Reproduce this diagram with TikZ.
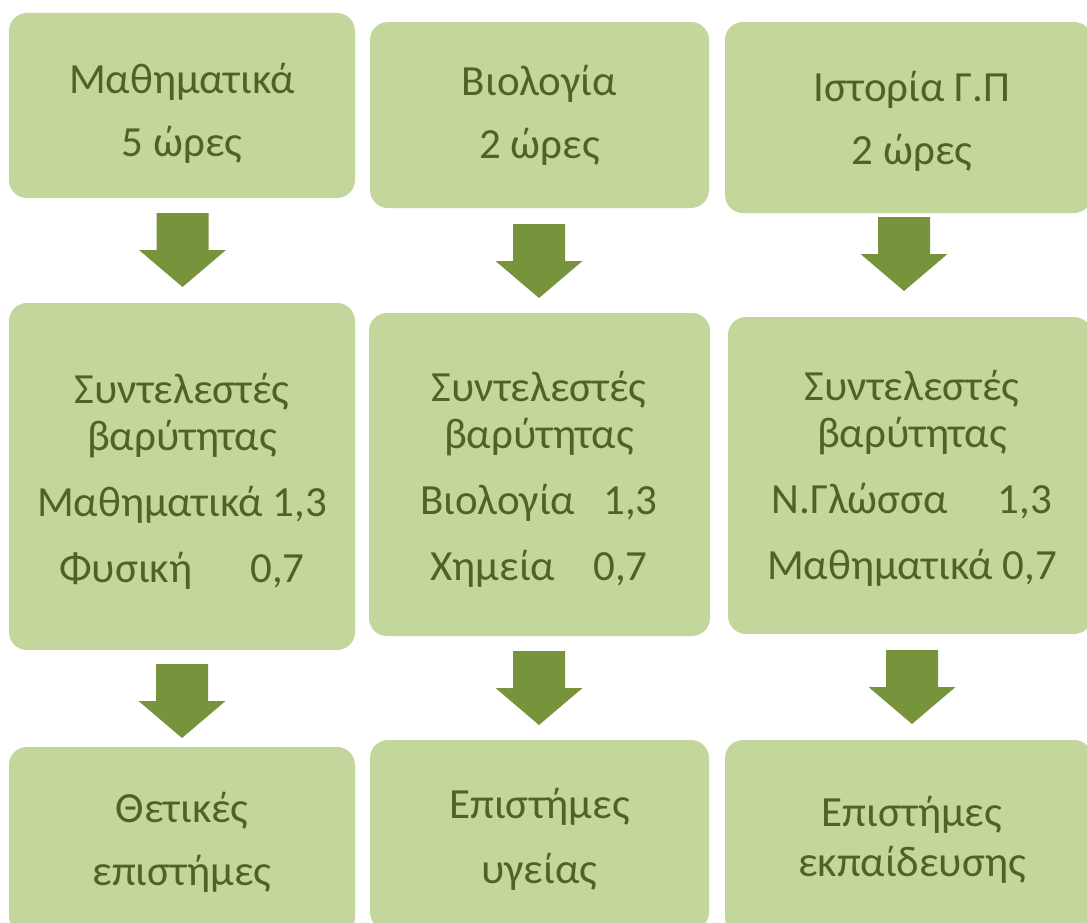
\documentclass[tikz,border=0pt]{standalone}
\usepackage{fontspec}
\setmainfont{Carlito}
\definecolor{boxgreen}{HTML}{C3D69B}
\definecolor{arrgreen}{HTML}{77933C}
\definecolor{txtgreen}{HTML}{4F6228}
\tikzset{
	pinakas/.style={fill=boxgreen, rounded corners=18pt, inner sep=0pt},
	keimeno/.style={align=center, inner sep=0pt, text=txtgreen,
		font=\fontsize{43}{47}\selectfont},
	velos/.style={fill=arrgreen}
}
% βέλος προς τα κάτω από το σημείο #1 (κέντρο πάνω πλευράς)
\newcommand{\belos}[1]{\fill[velos] (#1) ++(-26,0) -- ++(0,37) -- ++(-17.5,0)
	-- ++(43.5,37) -- ++(43.5,-37) -- ++(-17.5,0) -- ++(0,-37) -- cycle;}
\begin{document}
\begin{tikzpicture}[x=1pt,y=-1pt]
	\useasboundingbox (0,0) rectangle (1087,923);
	\clip (0,0) rectangle (1087,923);
	%	πάνω σειρά
	\node[pinakas, minimum width=346pt, minimum height=185pt] (mathA) at (182,105.5) {};
	\node[pinakas, minimum width=339pt, minimum height=186pt] (biolA) at (539.5,115) {};
	\node[pinakas, minimum width=367pt, minimum height=191pt] (istA) at (908.5,117.5) {};
	\node[keimeno] (mathAt) at (182,113) {Μαθηματικά\\[16pt]5 ώρες};
	\node[keimeno] (biolAt) at (539.5,115) {Βιολογία\\[16pt]2 ώρες};
	\node[keimeno] (istAt) at (912,121.5) {Ιστορία Γ.Π\\[16pt]2 ώρες};
	%	συντελεστές
	\node[pinakas, minimum width=346pt, minimum height=347pt] (mathB) at (182,476.5) {};
	\node[pinakas, minimum width=341pt, minimum height=323pt] (biolB) at (539.5,474.5) {};
	\node[pinakas, minimum width=364pt, minimum height=317pt] (istB) at (910,475.5) {};
	\node[keimeno] (mathBt) at (182,481)
		{Συντελεστές\\βαρύτητας\\[19pt]Μαθηματικά 1,3\\[19pt]Φυσική\hspace{58pt}0,7};
	\node[keimeno] (biolBt) at (539,479)
		{Συντελεστές\\βαρύτητας\\[19pt]Βιολογία\hspace{28pt}1,3\\[19pt]Χημεία\hspace{38pt}0,7};
	\node[keimeno] (istBt) at (912,478)
		{Συντελεστές\\βαρύτητας\\[19pt]Ν.Γλώσσα\hspace{50pt}1,3\\[19pt]Μαθηματικά 0,7};
	%	κάτω σειρά
	\node[pinakas, minimum width=346pt, minimum height=188pt] (mathC) at (182,841) {};
	\node[pinakas, minimum width=339pt, minimum height=190pt] (biolC) at (539.5,835) {};
	\node[pinakas, minimum width=367pt, minimum height=195pt] (istC) at (908.5,837.5) {};
	\node[keimeno] (mathCt) at (182,842) {Θετικές\\[16pt]επιστήμες};
	\node[keimeno] (biolCt) at (539.5,839) {Επιστήμες\\[18pt]υγείας};
	\node[keimeno] (istCt) at (912,839.5) {Επιστήμες\\[3pt]εκπαίδευσης};
	%	βέλη
	\coordinate (belA1) at (182.5,213);
	\coordinate (belB1) at (539,224);
	\coordinate (belC1) at (904,217);
	\coordinate (belA2) at (182,664);
	\coordinate (belB2) at (539,651);
	\coordinate (belC2) at (912,650);
	\belos{belA1} \belos{belB1} \belos{belC1}
	\belos{belA2} \belos{belB2} \belos{belC2}
\end{tikzpicture}
\end{document}
